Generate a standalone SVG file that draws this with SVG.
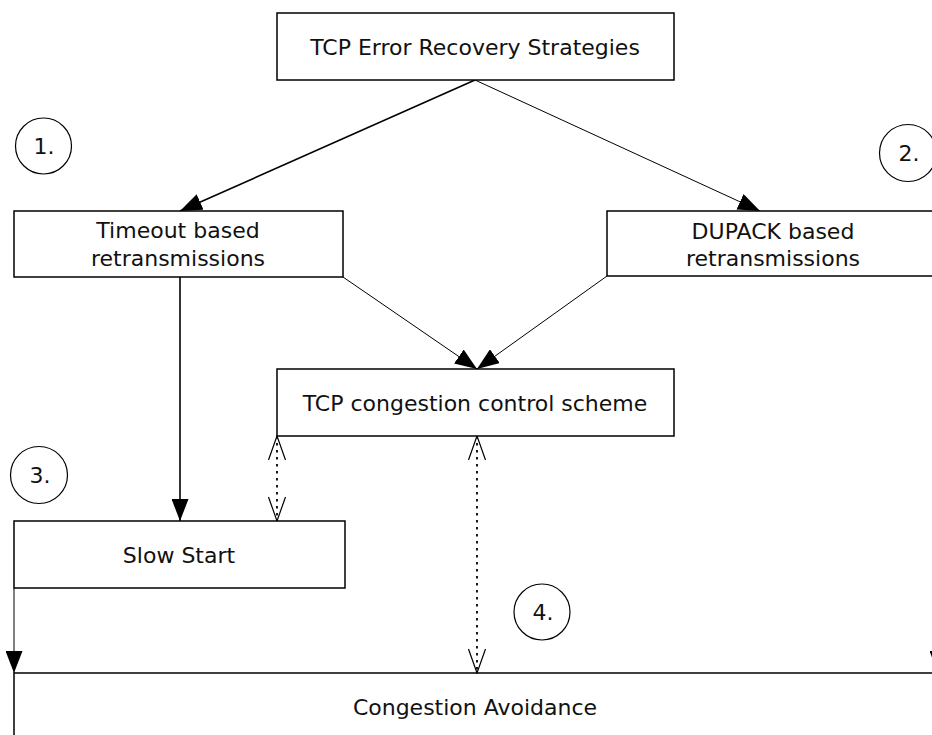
<svg xmlns="http://www.w3.org/2000/svg" width="932" height="735" viewBox="0 0 932 735">
  <style>
    .box { fill: #fff; stroke: #000; stroke-width: 1.5; }
    .badge { fill: #fff; stroke: #000; stroke-width: 1.2; }
    .lbl { font-family: "DejaVu Sans", Verdana, sans-serif; font-size: 22px; fill: #111; text-anchor: middle; }
    .solid { fill: none; stroke: #000; stroke-width: 1; }
    .bold { fill: none; stroke: #000; stroke-width: 1.6; }
    .dots { fill: none; stroke: #000; stroke-width: 1.8; stroke-dasharray: 2.5 4.5; }
  </style>
  <defs>
    <marker id="head" markerUnits="userSpaceOnUse" viewBox="0 0 22 17" markerWidth="22" markerHeight="17" refX="22" refY="8.5" orient="auto">
      <path d="M0,0 L22,8.5 L0,17 Z" fill="#000"/>
    </marker>
    <marker id="vee" markerUnits="userSpaceOnUse" viewBox="-1 -1 26 19" markerWidth="26" markerHeight="19" refX="24" refY="8.5" orient="auto">
      <path d="M0,0 L24,8.5 L0,17" fill="none" stroke="#000" stroke-width="1.2"/>
    </marker>
    <marker id="veeStart" markerUnits="userSpaceOnUse" viewBox="-1 -1 26 19" markerWidth="26" markerHeight="19" refX="0" refY="8.5" orient="auto">
      <path d="M24,0 L0,8.5 L24,17" fill="none" stroke="#000" stroke-width="1.2"/>
    </marker>
  </defs>

  <rect width="932" height="735" fill="#fff"/>

  <!-- Bottom band first so arrow tips sit on its border -->
  <g id="congestion-avoidance">
    <rect class="box" x="14" y="673" width="925" height="70"/>
    <text class="lbl" x="475" y="715">Congestion Avoidance</text>
  </g>

  <g id="connectors">
    <line class="bold" x1="475" y1="80" x2="180" y2="211" marker-end="url(#head)"/>
    <line class="solid" x1="475" y1="80" x2="760" y2="211" marker-end="url(#head)"/>
    <line class="bold" x1="180" y1="277" x2="180" y2="521" marker-end="url(#head)"/>
    <line class="solid" x1="343" y1="277" x2="477" y2="369" marker-end="url(#head)"/>
    <line class="solid" x1="607" y1="276" x2="477" y2="369" marker-end="url(#head)"/>
    <line class="dots" x1="277" y1="436" x2="277" y2="521" marker-start="url(#veeStart)" marker-end="url(#vee)"/>
    <line class="dots" x1="477" y1="436" x2="477" y2="673" marker-start="url(#veeStart)" marker-end="url(#vee)"/>
    <line class="solid" x1="14" y1="588" x2="14" y2="673" marker-end="url(#head)"/>
    <line class="solid" x1="938" y1="276" x2="938" y2="673" marker-end="url(#head)"/>
  </g>

  <g id="strategies">
    <rect class="box" x="277" y="13" width="397" height="67"/>
    <text class="lbl" x="475" y="55">TCP Error Recovery Strategies</text>
  </g>

  <g id="timeout">
    <rect class="box" x="14" y="211" width="329" height="66"/>
    <text class="lbl" x="178" y="238">Timeout based</text>
    <text class="lbl" x="178" y="266">retransmissions</text>
  </g>

  <g id="dupack">
    <rect class="box" x="607" y="211" width="332" height="65"/>
    <text class="lbl" x="773" y="239">DUPACK based</text>
    <text class="lbl" x="773" y="266">retransmissions</text>
  </g>

  <g id="congestion-control">
    <rect class="box" x="277" y="369" width="397" height="67"/>
    <text class="lbl" x="475" y="411">TCP congestion control scheme</text>
  </g>

  <g id="slow-start">
    <rect class="box" x="14" y="521" width="331" height="67"/>
    <text class="lbl" x="179" y="563">Slow Start</text>
  </g>

  <g id="badge-1">
    <circle class="badge" cx="43.5" cy="146" r="28"/>
    <text class="lbl" x="44" y="154">1.</text>
  </g>
  <g id="badge-2">
    <circle class="badge" cx="908" cy="153" r="28.5"/>
    <text class="lbl" x="909" y="161">2.</text>
  </g>
  <g id="badge-3">
    <circle class="badge" cx="39" cy="475" r="28.5"/>
    <text class="lbl" x="40" y="483">3.</text>
  </g>
  <g id="badge-4">
    <circle class="badge" cx="542" cy="612" r="28"/>
    <text class="lbl" x="543" y="620">4.</text>
  </g>
</svg>
